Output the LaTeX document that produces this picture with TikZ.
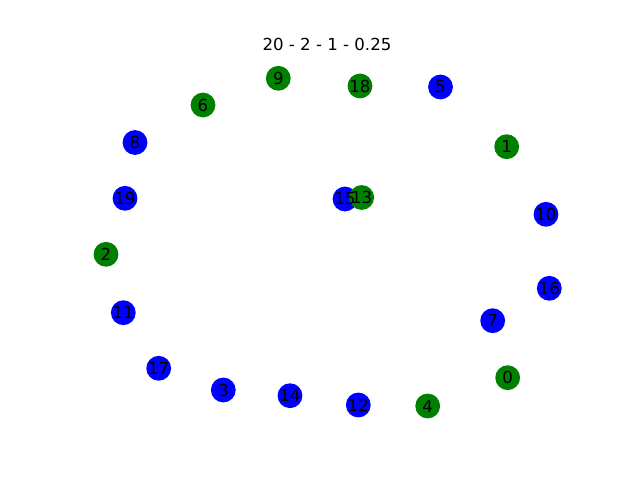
\documentclass[tikz,border=0pt]{standalone}
\usepackage{fontspec}
\setmainfont{DejaVu Sans}
\usepackage{tikz}

\definecolor{mplgreen}{RGB}{0,128,0}
\definecolor{mplblue}{RGB}{0,0,255}

\begin{document}
\begin{tikzpicture}[
    x=0.025cm, y=-0.025cm,
    font=\fontsize{11.8}{14}\selectfont,
    vertex/.style={circle, inner sep=0pt, minimum size=0.62cm},
    groupA/.style={vertex, fill=mplgreen},
    groupB/.style={vertex, fill=mplblue},
    lbl/.style={inner sep=0pt, text=black},
]
\useasboundingbox (0,0) rectangle (640,480);

% --- Title ---
\node (title) at (327,44) {20 - 2 - 1 - 0.25};

% --- Blue vertices ---
\node[groupB] (v5)  at (440.5,87) {};
\node[groupB] (v8)  at (135,142.5) {};
\node[groupB] (v19) at (125,198.3) {};
\node[groupB] (v15) at (345,199) {};
\node[groupB] (v10) at (546,214.3) {};
\node[groupB] (v16) at (549.3,288.3) {};
\node[groupB] (v11) at (123.3,312.7) {};
\node[groupB] (v7)  at (492.7,320.7) {};
\node[groupB] (v17) at (158.7,368.3) {};
\node[groupB] (v3)  at (223.3,390) {};
\node[groupB] (v14) at (290,395.7) {};
\node[groupB] (v12) at (358.3,405) {};

% --- Green vertices ---
\node[groupA] (v9)  at (278.3,78.3) {};
\node[groupA] (v18) at (360,86) {};
\node[groupA] (v6)  at (203,105) {};
\node[groupA] (v1)  at (506.7,146.7) {};
\node[groupA] (v13) at (361.7,197.5) {};
\node[groupA] (v2)  at (106,254.3) {};
\node[groupA] (v0)  at (507.7,377.7) {};
\node[groupA] (v4)  at (427.7,406) {};

% --- Labels on top ---
\foreach \n in {0,...,19}
    \node[lbl] (t\n) at (v\n) {\n};

\end{tikzpicture}
\end{document}
